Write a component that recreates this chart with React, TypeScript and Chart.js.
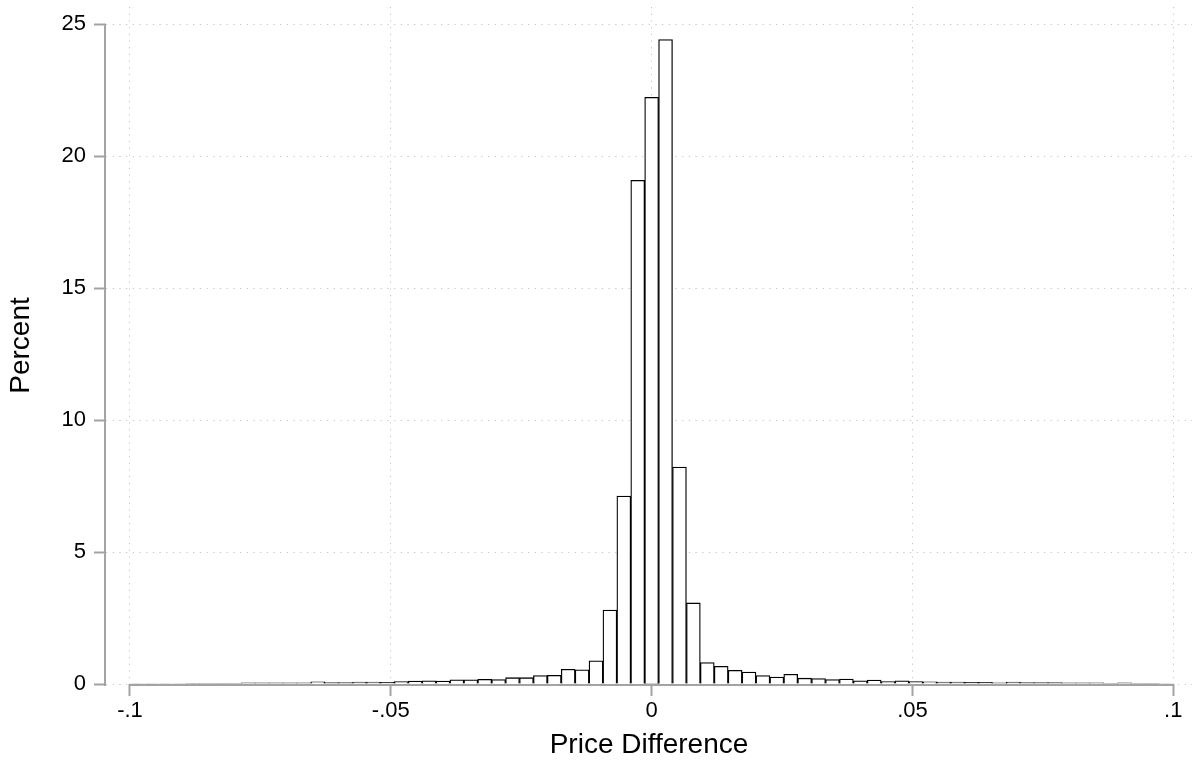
import React, { useEffect, useRef } from 'react';
import { Chart, registerables } from 'chart.js';

Chart.register(...registerables);

// ---- data ----
const binStart = -0.1;
const binEnd = 0.1;
const binCount = 75;
const percentValues = [
  0.02, 0.02, 0.02, 0.02, 0.03, 0.03, 0.03, 0.03, 0.04, 0.04,
  0.04, 0.04, 0.04, 0.08, 0.05, 0.05, 0.07, 0.07, 0.06, 0.09,
  0.11, 0.12, 0.11, 0.16, 0.16, 0.18, 0.17, 0.24, 0.24, 0.32,
  0.33, 0.56, 0.54, 0.88, 2.8, 7.12, 19.08, 22.22, 24.41, 8.22,
  3.07, 0.81, 0.67, 0.52, 0.45, 0.32, 0.26, 0.37, 0.22, 0.21,
  0.17, 0.19, 0.12, 0.15, 0.09, 0.12, 0.09, 0.08, 0.07, 0.07,
  0.06, 0.06, 0.04, 0.07, 0.05, 0.05, 0.05, 0.04, 0.04, 0.04,
  0.03, 0.04, 0.03, 0.03, 0.02,
];
const xTickValues = [-0.1, -0.05, 0, 0.05, 0.1];
const xTickLabels = ['-.1', '-.05', '0', '.05', '.1'];
const yTickValues = [0, 5, 10, 15, 20, 25];
const yTickLabels = ['0', '5', '10', '15', '20', '25'];
const xAxisTitle = 'Price Difference';
const yAxisTitle = 'Percent';

const FONT = "'Liberation Sans', Arial, Helvetica, sans-serif";
const AXIS_COLOR = '#a3a3a3';
const GRID_COLOR = '#c4c4c4';

const axisLinePlugin = {
  id: 'stataAxisLines',
  afterDatasetsDraw(chart: any) {
    const { ctx, chartArea, scales } = chart;
    const xs = scales.x;
    const ys = scales.y;
    ctx.save();
    ctx.strokeStyle = AXIS_COLOR;
    ctx.lineWidth = 2;
    ctx.beginPath();
    ctx.moveTo(xs.getPixelForValue(xTickValues[0]), chartArea.bottom + 1);
    ctx.lineTo(xs.getPixelForValue(xTickValues[xTickValues.length - 1]), chartArea.bottom + 1);
    ctx.moveTo(chartArea.left - 1, ys.getPixelForValue(yTickValues[0]) + 2);
    ctx.lineTo(chartArea.left - 1, ys.getPixelForValue(yTickValues[yTickValues.length - 1]));
    ctx.stroke();
    ctx.restore();
  },
};

export default function App() {
  const canvasRef = useRef<HTMLCanvasElement | null>(null);

  useEffect(() => {
    const canvas = canvasRef.current;
    if (!canvas) return;
    const binWidth = (binEnd - binStart) / binCount;
    const points = percentValues.map((v, i) => ({
      x: binStart + (i + 0.5) * binWidth,
      y: v,
    }));

    const chart = new Chart(canvas, {
      type: 'bar',
      data: {
        datasets: [
          {
            data: points as any,
            backgroundColor: '#ffffff',
            borderColor: '#000000',
            borderWidth: 1.3,
            barPercentage: 1,
            categoryPercentage: 1,
          },
        ],
      },
      plugins: [axisLinePlugin],
      options: {
        animation: false,
        responsive: false,
        events: [],
        layout: { padding: { top: 7, right: 4, left: 0, bottom: 0 } },
        plugins: {
          legend: { display: false },
          tooltip: { enabled: false },
        },
        scales: {
          x: {
            type: 'linear',
            offset: false,
            min: -0.1046,
            max: 0.10359,
            afterBuildTicks: (scale: any) => {
              scale.ticks = xTickValues.map((v) => ({ value: v }));
            },
            afterFit: (scale: any) => {
              scale.height = 85;
              scale.paddingLeft = 0;
              scale.paddingRight = 0;
            },
            ticks: {
              padding: 2,
              color: '#000',
              font: { family: FONT, size: 22 },
              maxRotation: 0,
              autoSkip: false,
              callback: (value: any) => {
                const i = xTickValues.findIndex((t) => Math.abs(t - Number(value)) < 1e-9);
                return i >= 0 ? xTickLabels[i] : '';
              },
            },
            grid: {
              offset: false,
              color: GRID_COLOR,
              lineWidth: 1,
              tickColor: AXIS_COLOR,
              tickWidth: 2,
              tickLength: 12,
            },
            border: { display: false, dash: [1.2, 5.5] },
            title: {
              display: true,
              text: xAxisTitle,
              color: '#000',
              font: { family: FONT, size: 28, lineHeight: 1.2 },
              padding: { top: 0, bottom: 7 },
            },
          },
          y: {
            type: 'linear',
            min: 0,
            max: 25.644,
            afterBuildTicks: (scale: any) => {
              scale.ticks = yTickValues.map((v) => ({ value: v }));
            },
            afterFit: (scale: any) => {
              scale.width = 106;
              scale.paddingTop = 0;
              scale.paddingBottom = 0;
            },
            ticks: {
              padding: 8,
              color: '#000',
              font: { family: FONT, size: 22 },
              autoSkip: false,
              callback: (value: any) => {
                const i = yTickValues.findIndex((t) => Math.abs(t - Number(value)) < 1e-9);
                return i >= 0 ? yTickLabels[i] : '';
              },
            },
            grid: {
              color: GRID_COLOR,
              lineWidth: 1,
              tickColor: AXIS_COLOR,
              tickWidth: 2,
              tickLength: 12,
            },
            border: { display: false, dash: [1.2, 5.5] },
            title: {
              display: true,
              text: yAxisTitle,
              color: '#000',
              font: { family: FONT, size: 28, lineHeight: 1.2 },
              padding: { top: 4, bottom: 0 },
            },
          },
        },
      },
    });

    return () => {
      chart.destroy();
    };
  }, []);

  return (
    <div style={{ position: 'absolute', left: 0, top: 0, width: 1196, height: 769, background: '#fff' }}>
      <canvas ref={canvasRef} width={1196} height={769} style={{ display: 'block' }} />
    </div>
  );
}
